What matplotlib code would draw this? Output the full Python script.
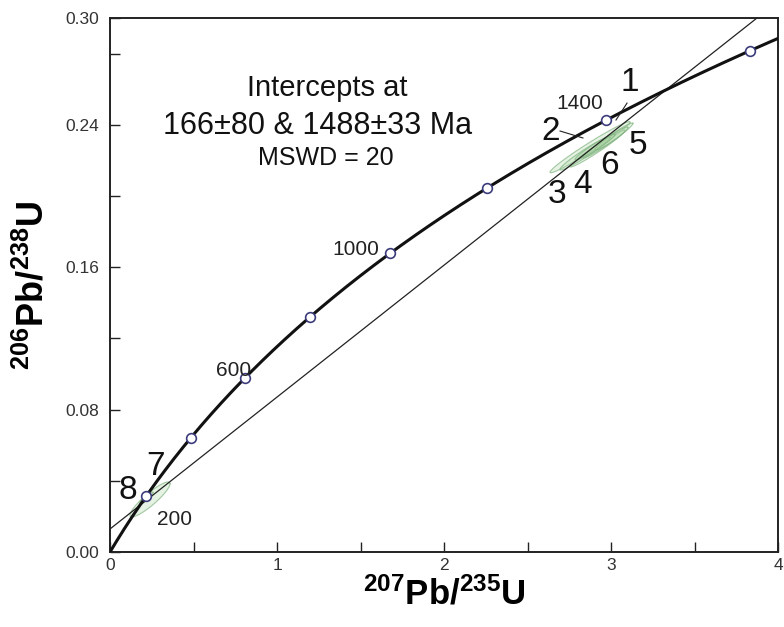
import numpy as np
import matplotlib
matplotlib.use("Agg")
import matplotlib.pyplot as plt

plt.rcParams['font.family'] = ['Liberation Sans', 'DejaVu Sans']
plt.rcParams['mathtext.fontset'] = 'custom'
plt.rcParams['mathtext.rm'] = 'Liberation Sans'
plt.rcParams['mathtext.bf'] = 'Liberation Sans:bold'

# Decay constants (1/Ma)
lambda235 = 9.8485e-4
lambda238 = 1.55125e-4

# Concordia age markers (Ma) and labelled ones
marker_ages = [200, 400, 600, 800, 1000, 1200, 1400, 1600]
labelled_ages = [200, 600, 1000, 1400]

# Discordia intercepts (Ma)
lower_intercept = 166
upper_intercept = 1488

# Analyses: centre x, centre y, half-extent x, half-extent y, correlation
spot_ids = ['1', '2', '3', '4', '5', '6', '7', '8']
ell_cx = [2.874, 2.919, 2.982, 2.844, 3.003, 2.904, 0.2395, 0.2186]
ell_cy = [0.2274, 0.2267, 0.2312, 0.2239, 0.2323, 0.2275, 0.0295, 0.0306]
ell_ax = [0.2395, 0.1647, 0.150, 0.150, 0.099, 0.120, 0.120, 0.040]
ell_ay = [0.01433, 0.0104, 0.00983, 0.0093, 0.0065, 0.0073, 0.00983, 0.0031]
ell_rho = [0.98, 0.975, 0.975, 0.965, 0.95, 0.96, 0.90, 0.90]

x_ticks = [0, 1, 2, 3, 4]
x_minor = [0.5, 1.5, 2.5, 3.5]
y_ticks = [0.00, 0.08, 0.16, 0.24, 0.30]
y_tick_labels = ['0.00', '0.08', '0.16', '0.24', '0.30']
y_minor = [0.04, 0.12, 0.20, 0.28]


def conc(t):
    t = np.asarray(t, dtype=float)
    return np.exp(lambda235 * t) - 1, np.exp(lambda238 * t) - 1


fig = plt.figure(figsize=(7.84, 6.27), dpi=100)
ax = fig.add_axes([110 / 784, 1 - 552 / 627, 668 / 784, 534 / 627])
ax.set_xlim(0, 4)
ax.set_ylim(0, 0.30)

# Ellipses
tt = np.linspace(0, 2 * np.pi, 200)
for cx, cy, a, b, r in zip(ell_cx, ell_cy, ell_ax, ell_ay, ell_rho):
    ex = cx + a * np.cos(tt)
    ey = cy + b * (r * np.cos(tt) + np.sqrt(1 - r ** 2) * np.sin(tt))
    ax.fill(ex, ey, facecolor='#a8d4a0', alpha=0.28, edgecolor='none', zorder=2)
    ax.plot(ex, ey, color='#7fb27f', lw=0.8, alpha=0.7, zorder=2)

# Discordia
xl, yl = conc(lower_intercept)
xu, yu = conc(upper_intercept)
slope = (yu - yl) / (xu - xl)
dx = np.array([0, 4.0])
ax.plot(dx, yl + slope * (dx - xl), color='#222222', lw=0.9, zorder=3)

# Concordia
t = np.linspace(0, 1700, 600)
cxs, cys = conc(t)
ax.plot(cxs, cys, color='#111111', lw=2.2, zorder=4)
mx, my = conc(marker_ages)
ax.plot(mx, my, 'o', ms=7, mfc='white', mec='#3c3c7c', mew=1.2, zorder=5)

# Age labels
age_pos = {200: (0.389, 0.0185, 'center'), 600: (0.737, 0.1022, 'center'),
           1000: (1.473, 0.1697, 'center'), 1400: (2.814, 0.2517, 'center')}
for age in labelled_ages:
    px, py, ha = age_pos[age]
    ax.text(px, py, str(age), fontsize=15, ha=ha, va='center', color='#222222', zorder=6)

# Spot labels
spot_pos = {'1': (3.114, 0.2640), '2': (2.641, 0.2360), '3': (2.677, 0.2006),
            '4': (2.832, 0.2062), '5': (3.162, 0.2281), '6': (2.994, 0.2174),
            '7': (0.275, 0.0478), '8': (0.108, 0.0348)}
for sid in spot_ids:
    px, py = spot_pos[sid]
    ax.text(px, py, sid, fontsize=24, ha='center', va='center', color='#111111', zorder=6)
ax.plot([3.096, 3.030], [0.2522, 0.2427], color='#222222', lw=0.8, zorder=6)
ax.plot([2.695, 2.832], [0.2365, 0.2326], color='#222222', lw=0.8, zorder=6)

# Intercept annotation
ax.text(1.30, 0.2607, 'Intercepts at', fontsize=21, ha='center', va='center', color='#111111')
ax.text(1.24, 0.2393, '166±80 & 1488±33 Ma', fontsize=22, ha='center', va='center', color='#111111')
ax.text(1.29, 0.2213, 'MSWD = 20', fontsize=18, ha='center', va='center', color='#111111')

# Axes styling
ax.set_xticks(x_ticks)
ax.set_xticklabels([str(v) for v in x_ticks])
ax.set_xticks(x_minor, minor=True)
ax.set_yticks(y_ticks)
ax.set_yticklabels(y_tick_labels)
ax.set_yticks(y_minor, minor=True)
ax.tick_params(which='both', direction='in', width=1.0, color='#222222',
               labelsize=12.5, labelcolor='#333333')
ax.tick_params(which='major', length=7)
ax.tick_params(which='minor', length=7)
ax.tick_params(axis='x', pad=4)
ax.tick_params(axis='y', pad=8)
for s in ax.spines.values():
    s.set_linewidth(1.4)
    s.set_color('#222222')

ax.set_xlabel(r'$\mathbf{^{207}Pb/^{235}U}$', fontsize=25, labelpad=3)
ax.set_ylabel(r'$\mathbf{^{206}Pb/^{238}U}$', fontsize=26, labelpad=10)

fig.savefig('out.png', dpi=100)
